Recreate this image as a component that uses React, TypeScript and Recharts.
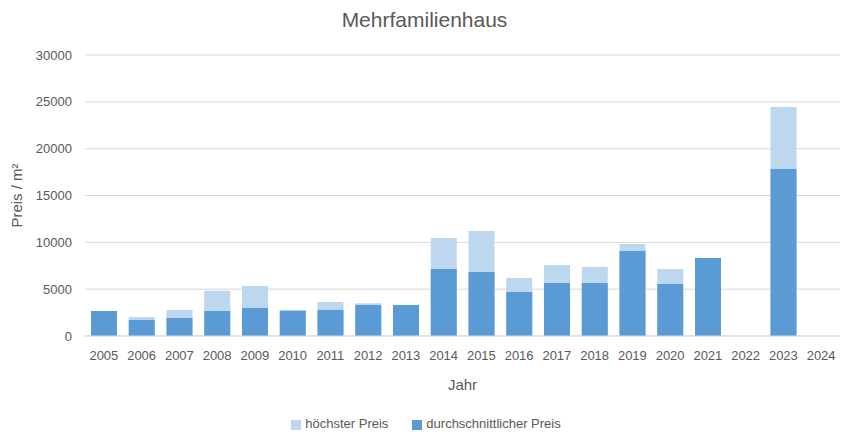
import { BarChart, Bar, XAxis, YAxis, CartesianGrid, Legend } from "recharts";

const years = ["2005", "2006", "2007", "2008", "2009", "2010", "2011", "2012", "2013", "2014", "2015", "2016", "2017", "2018", "2019", "2020", "2021", "2022", "2023", "2024"];
const hoechsterPreis = [2670, 2030, 2780, 4840, 5340, 2750, 3630, 3490, 3310, 10460, 11210, 6190, 7580, 7370, 9820, 7150, 8330, null, 24450, null];
const durchschnittPreis = [2670, 1710, 1920, 2670, 2990, 2700, 2780, 3310, 3310, 7150, 6830, 4700, 5660, 5660, 9070, 5550, 8330, null, 17830, null];
const yTicks = [0, 5000, 10000, 15000, 20000, 25000, 30000];

const data = years.map((y, i) => ({ jahr: y, hoch: hoechsterPreis[i], avg: durchschnittPreis[i] }));

const FONT = "'Liberation Sans', Arial, sans-serif";
const GREY = "#595959";
const legendOrder = ["höchster Preis", "durchschnittlicher Preis"];

export default function App() {
  return (
    <div style={{ position: "absolute", left: 0, top: 0, width: 849, height: 441, background: "#fff", fontFamily: FONT }}>
      {/* title */}
      <div style={{ position: "absolute", left: 0, top: 8, width: 849, textAlign: "center", fontSize: 21, color: GREY }}>
        Mehrfamilienhaus
      </div>
      <BarChart width={849} height={441} data={data} margin={{ top: 55, right: 9, bottom: 5, left: 0 }} barSize={26}>
        <CartesianGrid vertical={false} stroke="#D9D9D9" />
        <XAxis xAxisId="back" dataKey="jahr" tickSize={0} tickMargin={15} height={76} axisLine={{ stroke: "#D9D9D9" }}
          tick={{ fill: GREY, fontSize: 13, fontFamily: FONT }}
          label={{ value: "Jahr", position: "insideBottom", offset: 22, fill: GREY, fontSize: 15, fontFamily: FONT }} />
        <XAxis xAxisId="front" dataKey="jahr" hide />
        <YAxis domain={[0, 30000]} ticks={yTicks} width={85} axisLine={false} tickSize={0} tickMargin={13}
          tick={{ fill: GREY, fontSize: 13, fontFamily: FONT }}
          label={{ value: "Preis / m²", angle: -90, position: "insideLeft", offset: 17, fill: GREY, fontSize: 15, fontFamily: FONT, style: { textAnchor: "middle" } }} />
        <Legend verticalAlign="bottom" iconType="square" iconSize={10}
          itemSorter={(item) => legendOrder.indexOf(String(item.value))}
          wrapperStyle={{ height: 24, lineHeight: "24px", fontSize: 13, fontFamily: FONT, paddingLeft: 18 }}
          formatter={(v) => <span style={{ color: GREY, marginRight: 14 }}>{v}</span>} />
        <Bar xAxisId="back" dataKey="hoch" name="höchster Preis" fill="#BDD7EE" isAnimationActive={false} />
        <Bar xAxisId="front" dataKey="avg" name="durchschnittlicher Preis" fill="#5B9BD5" isAnimationActive={false} />
      </BarChart>
    </div>
  );
}
